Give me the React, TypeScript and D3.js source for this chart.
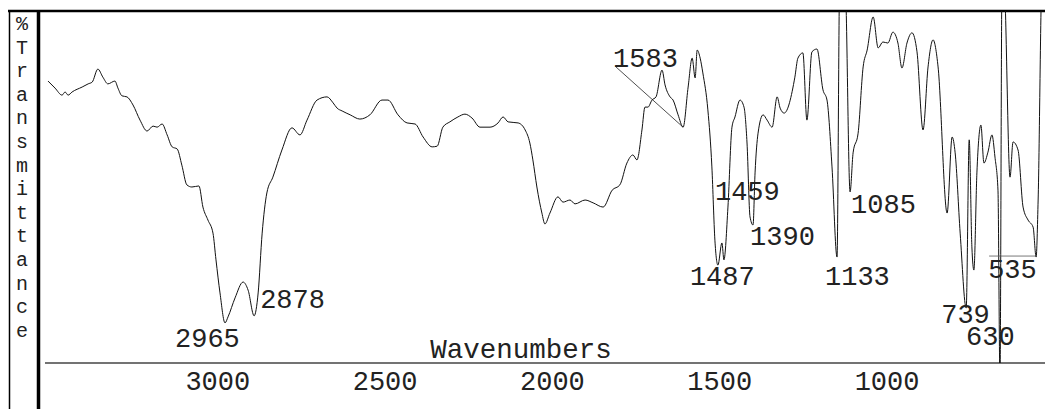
import * as d3 from "d3";

// IR spectrum, [wavenumber cm-1, %T]
const spectrum: [number, number][] = [
  [3494, 80.1], [3473, 78.1], [3452, 76.1], [3443, 77.0], [3434, 76.1], [3422, 77.0],
  [3392, 78.4], [3374, 79.3], [3362, 79.8], [3345, 83.5], [3330, 81.2], [3315, 79.3],
  [3294, 80.1], [3285, 78.1], [3273, 75.9], [3258, 75.6], [3240, 73.3], [3219, 69.0],
  [3198, 65.9], [3180, 67.3], [3168, 67.0], [3153, 67.9], [3138, 64.8], [3123, 61.4],
  [3108, 60.8], [3094, 56.2], [3079, 50.6], [3064, 50.0], [3043, 50.3], [3031, 44.3],
  [3016, 40.6], [3001, 36.9], [2992, 29.3], [2980, 19.9], [2965, 11.4], [2956, 13.1],
  [2935, 18.5], [2911, 23.0], [2896, 20.7], [2878, 13.4], [2866, 19.9], [2854, 36.9],
  [2840, 48.3], [2822, 52.8], [2795, 60.5], [2765, 66.8], [2741, 64.8], [2720, 69.0],
  [2690, 74.7], [2660, 75.6], [2642, 73.9], [2630, 72.4], [2615, 71.6], [2591, 70.5],
  [2562, 69.3], [2532, 70.5], [2496, 74.7], [2478, 74.7], [2448, 70.5], [2421, 68.2],
  [2397, 67.9], [2373, 64.2], [2346, 61.4], [2331, 61.6], [2314, 67.0], [2293, 68.5],
  [2269, 69.9], [2248, 70.7], [2227, 69.6], [2203, 67.0], [2173, 67.0], [2149, 68.2],
  [2134, 69.9], [2119, 68.5], [2089, 68.2], [2068, 66.2], [2054, 62.5], [2045, 57.7],
  [2033, 50.0], [2018, 42.6], [2009, 39.5], [1994, 42.6], [1970, 47.2], [1955, 45.7],
  [1934, 46.3], [1919, 45.2], [1889, 46.3], [1865, 45.5], [1835, 44.3], [1808, 49.1],
  [1785, 50.6], [1764, 56.8], [1746, 59.1], [1734, 57.7], [1719, 66.2], [1710, 72.7],
  [1701, 72.7], [1689, 74.7], [1677, 75.6], [1659, 83.2], [1650, 79.0], [1635, 75.6],
  [1626, 74.7], [1611, 70.5], [1596, 67.0], [1581, 78.4], [1569, 86.6], [1560, 81.0],
  [1554, 88.9], [1545, 86.6], [1537, 82.4], [1522, 71.9], [1510, 55.7], [1501, 34.9],
  [1492, 27.8], [1480, 34.1], [1474, 29.3], [1462, 44.3], [1450, 67.0], [1441, 69.9],
  [1426, 74.7], [1414, 72.7], [1405, 62.5], [1396, 41.5], [1387, 39.2], [1381, 54.0],
  [1372, 65.3], [1357, 70.5], [1345, 69.0], [1330, 67.0], [1315, 75.6], [1306, 72.4],
  [1294, 71.0], [1262, 81.2], [1253, 86.6], [1238, 88.1], [1226, 69.0], [1211, 88.4],
  [1196, 89.2], [1178, 77.6], [1166, 74.7], [1151, 55.7], [1136, 30.1], [1128, 108],
  [1112, 108], [1097, 48.6], [1088, 59.7], [1073, 65.3], [1058, 84.1], [1046, 88.9],
  [1028, 98.3], [1013, 89.5], [999, 91.2], [984, 90.9], [969, 94.0], [954, 90.9],
  [942, 83.8], [927, 90.9], [912, 93.8], [897, 88.4], [879, 66.2], [864, 84.1],
  [849, 91.8], [834, 84.1], [807, 42.6], [792, 64.2], [783, 59.7], [768, 36.9],
  [750, 15.6], [741, 63.4], [733, 33.0], [727, 26.4], [718, 54.0], [706, 67.6],
  [697, 56.8], [685, 59.9], [673, 64.8], [664, 58.5], [655, 49.1], [649, -5],
  [643, 108], [637, 108], [619, 52.8], [610, 62.8], [595, 60.5], [580, 44.3],
  [565, 40.6], [550, 38.6], [541, 30.1], [535, 46.3], [523, 110], [514, 110],
];

const xTicks = [3000, 2500, 2000, 1500, 1000];

// peak labels and the spectrum point each one marks
const peakText = ["2965", "2878", "1583", "1487", "1459", "1390", "1133", "1085", "739", "630", "535"];
const peakAt = [2965, 2878, 1596, 1492, 1462, 1387, 1136, 1097, 750, 649, 541];
// label offset (left edge, baseline) from the marked point
const peakDx = [-48, 8, -68, -26, -11, -1, -10, 3, -23, -32, -46];
const peakDy = [24, -8, -60, 20, -7, 20, 28, 21, 15, -18, 21];

const yLabel = "%Transmittance";

const width = 1045;
const height = 409;
const top = 11;
const bottom = 363;
const mono = "'Liberation Mono', 'DejaVu Sans Mono', monospace";

export default function App() {
  const x = d3.scaleLinear().domain([3500, 510]).range([46, 1046.5]);
  const y = d3.scaleLinear().domain([0, 100]).range([bottom, top]);
  const line = d3
    .line<[number, number]>()
    .x((d) => x(d[0]))
    .y((d) => y(d[1]))
    .curve(d3.curveMonotoneX);

  const findPoint = (wn: number) =>
    d3.least(spectrum, (d) => Math.abs(d[0] - wn)) as [number, number];

  return (
    <svg
      width={width}
      height={height}
      style={{ position: "absolute", left: 0, top: 0, background: "#fff" }}
    >
      <defs>
        <clipPath id="plot">
          <rect x={40} y={top} width={width - 40} height={bottom - top} />
        </clipPath>
      </defs>

      {/* frame */}
      <line x1={8} x2={width} y1={top} y2={top} stroke="#000" strokeWidth={2.5} />
      <line x1={9.5} x2={9.5} y1={top} y2={height} stroke="#000" strokeWidth={1.5} />
      <line x1={38.5} x2={38.5} y1={top} y2={height} stroke="#000" strokeWidth={3.5} />
      <line x1={45} x2={width} y1={bottom} y2={bottom} stroke="#444" strokeWidth={1.5} />

      {/* y label, one letter per row */}
      {yLabel.split("").map((ch, i) => (
        <text
          key={i}
          x={22}
          y={30 + i * 23.6}
          textAnchor="middle"
          fontFamily={mono}
          fontSize={20}
          fill="#222"
        >
          {ch}
        </text>
      ))}

      {/* x ticks */}
      {xTicks.map((t) => (
        <text
          key={t}
          x={x(t) + 4.5}
          y={390}
          textAnchor="middle"
          fontFamily={mono}
          fontSize={27}
          fill="#222"
        >
          {t}
        </text>
      ))}
      <text x={521} y={358} textAnchor="middle" fontFamily={mono} fontSize={27.5} fill="#222">
        Wavenumbers
      </text>

      {/* spectrum */}
      <g clipPath="url(#plot)">
        <path d={line(spectrum) ?? ""} fill="none" stroke="#111" strokeWidth={1} />
      </g>

      {/* peak annotations */}
      {peakText.map((label, i) => {
        const p = findPoint(peakAt[i]);
        const px = x(p[0]);
        const py = Math.max(top, Math.min(bottom, y(p[1])));
        return (
          <g key={label}>
            {label === "1583" && (
              <line x1={px + peakDx[i]} y1={py + peakDy[i] - 1} x2={px} y2={py} stroke="#222" strokeWidth={0.8} />
            )}
            {label === "535" && (
              <line x1={px + peakDx[i] - 1} y1={py - 1} x2={px} y2={py - 1} stroke="#555" strokeWidth={0.8} />
            )}
            <text
              x={px + peakDx[i] - 2}
              y={py + peakDy[i]}
              fontFamily={mono}
              fontSize={27}
              fill="#222"
            >
              {label}
            </text>
          </g>
        );
      })}
    </svg>
  );
}
